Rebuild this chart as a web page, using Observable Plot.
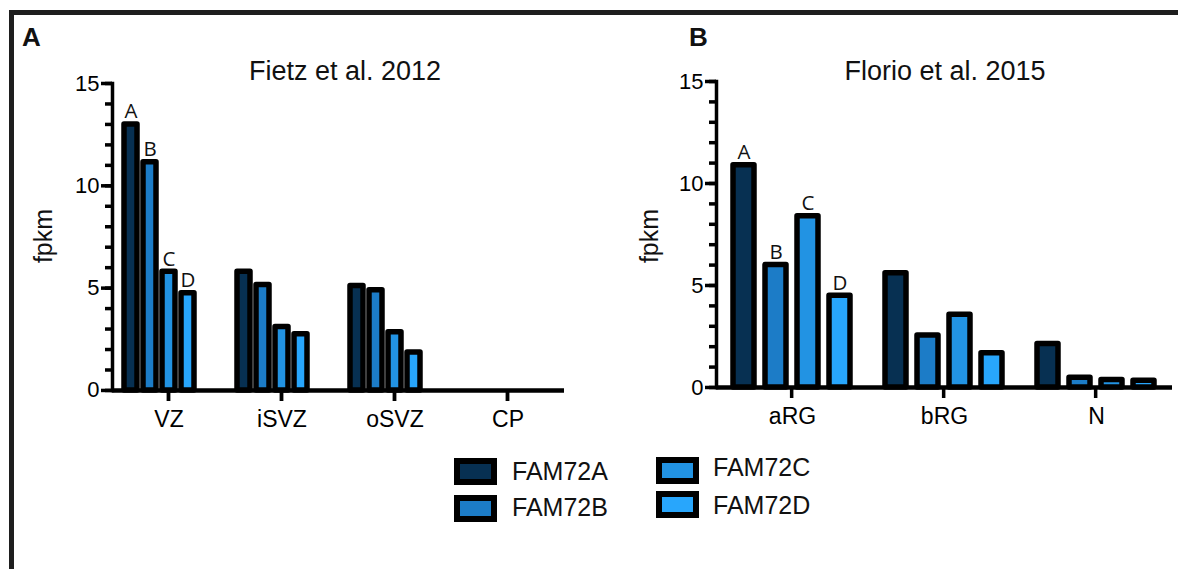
<!DOCTYPE html>
<html>
<head>
<meta charset="utf-8">
<script src="https://cdn.jsdelivr.net/npm/d3@7"></script>
<script src="https://cdn.jsdelivr.net/npm/@observablehq/plot@0.6"></script>
<style>
  html, body { margin: 0; padding: 0; background: #fff; }
  #root { position: relative; width: 1178px; height: 569px; overflow: hidden; background: #fff;
          font-family: "Liberation Sans", Arial, Helvetica, sans-serif; color: #111; }
  .border { position: absolute; left: 9px; top: 10px; width: 1200px; height: 600px;
            border-top: 5px solid #1e1e1e; border-left: 5px solid #1e1e1e; }
  .t { position: absolute; white-space: nowrap; }
  .sw { position: absolute; box-sizing: border-box; border: 6px solid #000; }
  .panel { position: absolute; top: 0; }
</style>
</head>
<body>
<div id="root"><div class="border"></div></div>
<script>
// ---------- data ----------
const genes = ["FAM72A", "FAM72B", "FAM72C", "FAM72D"];
const geneLetters = ["A", "B", "C", "D"];
const geneColors = ["#073052", "#1c7cc7", "#2293e3", "#28a6fc"];

// Panel A: Fietz et al. 2012
const fietzTitle = "Fietz et al. 2012";
const fietzCategories = ["VZ", "iSVZ", "oSVZ", "CP"];
const fietzFAM72A = [13.0, 5.8, 5.1, 0];
const fietzFAM72B = [11.15, 5.15, 4.9, 0];
const fietzFAM72C = [5.8, 3.1, 2.85, 0];
const fietzFAM72D = [4.75, 2.75, 1.85, 0];

// Panel B: Florio et al. 2015
const florioTitle = "Florio et al. 2015";
const florioCategories = ["aRG", "bRG", "N"];
const florioFAM72A = [10.9, 5.6, 2.13];
const florioFAM72B = [6.0, 2.55, 0.48];
const florioFAM72C = [8.4, 3.57, 0.37];
const florioFAM72D = [4.5, 1.68, 0.33];

const yMajorTicks = [0, 5, 10, 15];
const yMinorTicks = d3.range(0, 16);
const yLabel = "fpkm";
const yTop = 15;
const yStubDepth = -0.54; // category tick stubs hang just below zero

// ---------- helpers ----------
function rowsFrom(cats, series) {
  const rows = [];
  cats.forEach((c, i) => series.forEach((s, g) => rows.push({cat: c, gene: genes[g], letter: geneLetters[g], value: s[i]})));
  return rows;
}

function panel({rows, cats, xDomain, padIn, padOut, stubKey, width, height, mL, mR, mT, mB}) {
  const first = rows.filter(d => d.cat === cats[0]);
  const catRows = cats.map(c => ({cat: c}));
  // where the facet centre falls inside the band of stubKey (in band steps)
  const facetW = (width - mL - mR) / cats.length;
  const step = facetW / (xDomain.length - padIn + 2 * padOut);
  const bandStart = step * padOut + xDomain.indexOf(stubKey) * step;
  const bandW = step * (1 - padIn);
  const offset = facetW / 2 - bandStart;
  const stubHalf = 2;
  return Plot.plot({
    width, height,
    marginLeft: mL, marginRight: mR, marginTop: mT, marginBottom: mB,
    style: {fontFamily: "'Liberation Sans', Arial, sans-serif", background: "transparent", overflow: "visible", color: "#000"},
    fx: {domain: cats, padding: 0, label: null},
    x: {domain: xDomain, paddingInner: padIn, paddingOuter: padOut, axis: null},
    y: {domain: [yStubDepth, yTop]},
    color: {domain: genes, range: geneColors},
    marks: [
      Plot.barY(catRows, {fx: "cat", x: () => stubKey, y1: yStubDepth, y2: 0,
                          insetLeft: offset - stubHalf, insetRight: bandW - offset - stubHalf, fill: "#000"}),
      Plot.barY(rows, {fx: "cat", x: "gene", y: "value", fill: "gene", stroke: "#000", strokeWidth: 5.5, strokeLinejoin: "round"}),
      Plot.ruleY([0], {stroke: "#000", strokeWidth: 4.5}),
      Plot.frame({anchor: "left", facetAnchor: "left", insetBottom: 11, stroke: "#000", strokeWidth: 3.5}),
      Plot.axisY(yMinorTicks, {tickSize: 7, strokeWidth: 3.5, tickFormat: () => "", label: null}),
      Plot.axisY(yMajorTicks, {tickSize: 11, strokeWidth: 3.5, tickPadding: 2, fontSize: 22, label: null}),
      Plot.axisFx({anchor: "bottom", tickSize: 0, tickPadding: 9, fontSize: 23, label: null}),
      Plot.text(first, {fx: "cat", x: "gene", y: "value", text: "letter", lineAnchor: "bottom", dy: -6,
                        fontSize: 20.5, fontFamily: "'Open Sans', sans-serif", fill: "#111"})
    ]
  });
}

const root = document.getElementById("root");
function label(text, x, baseline, size, opts = {}) {
  const el = document.createElement("div");
  el.className = "t";
  el.textContent = text;
  el.style.fontSize = size + "px";
  el.style.lineHeight = size + "px";
  el.style.top = (baseline - 0.8465 * size) + "px";
  el.style.left = x + "px";
  if (opts.center) el.style.transform = "translateX(-50%)";
  if (opts.bold) el.style.fontWeight = "bold";
  root.appendChild(el);
  return el;
}
function vlabel(text, baselineX, centerY, size) {
  const el = document.createElement("div");
  el.className = "t";
  el.textContent = text;
  el.style.fontSize = size + "px";
  el.style.lineHeight = size + "px";
  el.style.width = "200px";
  el.style.textAlign = "center";
  el.style.left = (baselineX - 0.8465 * size) + "px";
  el.style.top = (centerY + 100) + "px";
  el.style.transformOrigin = "0 0";
  el.style.transform = "rotate(-90deg)";
  root.appendChild(el);
}

// ---------- panel A ----------
const svgA = panel({
  rows: rowsFrom(fietzCategories, [fietzFAM72A, fietzFAM72B, fietzFAM72C, fietzFAM72D]),
  cats: fietzCategories,
  xDomain: [...genes, "_gap"],
  padIn: 0.316, padOut: 0.585, stubKey: "FAM72C",
  width: 600, height: 440, mL: 112, mR: 36, mT: 83, mB: 39
});
const wrapA = document.createElement("div");
wrapA.className = "panel"; wrapA.style.left = "0px";
wrapA.appendChild(svgA); root.appendChild(wrapA);

// ---------- panel B ----------
const svgB = panel({
  rows: rowsFrom(florioCategories, [florioFAM72A, florioFAM72B, florioFAM72C, florioFAM72D]),
  cats: florioCategories,
  xDomain: genes,
  padIn: 0.335, padOut: 0.525, stubKey: "FAM72B",
  width: 578, height: 440, mL: 115, mR: 6, mT: 81, mB: 42
});
const wrapB = document.createElement("div");
wrapB.className = "panel"; wrapB.style.left = "600px";
wrapB.appendChild(svgB); root.appendChild(wrapB);

// ---------- text ----------
label("A", 22, 46.5, 26, {bold: true});
label("B", 689, 46.5, 26, {bold: true});
label(fietzTitle, 345, 80.5, 27, {center: true});
label(florioTitle, 945, 80.5, 27, {center: true});
vlabel(yLabel, 52, 236, 25);
vlabel(yLabel, 658, 236, 25);

// ---------- legend ----------
const legendItems = [
  {g: 0, sx: 454, sy: 458, tx: 512, tb: 480},
  {g: 1, sx: 454, sy: 495, tx: 512, tb: 516},
  {g: 2, sx: 656, sy: 457, tx: 713, tb: 476},
  {g: 3, sx: 656, sy: 491, tx: 713, tb: 514.5}
];
legendItems.forEach(it => {
  const sw = document.createElement("div");
  sw.className = "sw";
  sw.style.left = it.sx + "px"; sw.style.top = it.sy + "px";
  sw.style.width = "43px"; sw.style.height = "27px";
  sw.style.background = geneColors[it.g];
  root.appendChild(sw);
  label(genes[it.g], it.tx, it.tb, 25);
});
</script>
</body>
</html>
